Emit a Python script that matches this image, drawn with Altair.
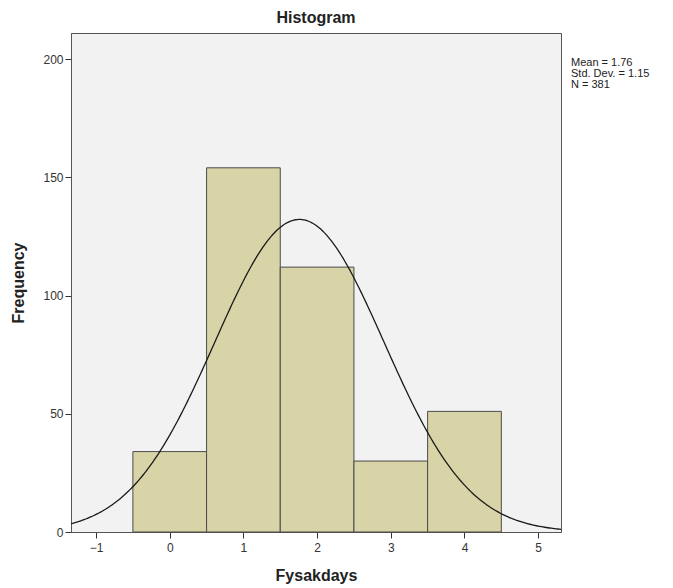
import altair as alt
import pandas as pd
import numpy as np

# Histogram data
bin_starts = [-0.5, 0.5, 1.5, 2.5, 3.5]
bin_ends = [0.5, 1.5, 2.5, 3.5, 4.5]
counts = [34, 154, 112, 30, 51]

# Summary statistics shown in the chart
mean_val = 1.76
sd_val = 1.15
n_val = 381
bin_width = 1.0

x_ticks = [-1, 0, 1, 2, 3, 4, 5]
y_ticks = [0, 50, 100, 150, 200]
x_domain = [-1.34, 5.31]
y_domain = [0, 211]

bars_df = pd.DataFrame({"start": bin_starts, "end": bin_ends, "count": counts})

# Fitted normal curve defined by the stated mean / SD / N
xs = np.linspace(x_domain[0], x_domain[1], 300)
ys = n_val * bin_width / (sd_val * np.sqrt(2 * np.pi)) * np.exp(-0.5 * ((xs - mean_val) / sd_val) ** 2)
curve_df = pd.DataFrame({"x": xs, "y": ys})

stats_text = f"Mean = {mean_val:.2f}\nStd. Dev. = {sd_val:.2f}\nN = {n_val}"

FONT = "Liberation Sans"

xscale = alt.Scale(domain=x_domain, nice=False, zero=False)
yscale = alt.Scale(domain=y_domain, nice=False)

xaxis = alt.Axis(values=x_ticks, format="d", title="Fysakdays", grid=False, tickSize=6,
                 labelFontSize=12, labelColor="#333333", labelFont=FONT,
                 titleFont=FONT, titleFontSize=16, titleFontWeight="bold",
                 titleColor="#222222", titlePadding=14, domainColor="#555555",
                 tickColor="#333333", labelPadding=4)
yaxis = alt.Axis(values=y_ticks, format="d", title="Frequency", grid=False, tickSize=6,
                 labelFontSize=12, labelColor="#333333", labelFont=FONT,
                 titleFont=FONT, titleFontSize=16, titleFontWeight="bold",
                 titleColor="#222222", titlePadding=16, domainColor="#555555",
                 tickColor="#333333", labelPadding=2)

bars = alt.Chart(bars_df).mark_rect(
    fill="#d9d4a7", stroke="#4a4a4a", strokeWidth=1
).encode(
    x=alt.X("start:Q", scale=xscale, axis=xaxis),
    x2="end:Q",
    y=alt.Y("count:Q", scale=yscale, axis=yaxis),
    y2=alt.datum(0),
)

curve = alt.Chart(curve_df).mark_line(
    color="#1a1a1a", strokeWidth=1.3, clip=True
).encode(
    x=alt.X("x:Q", scale=xscale),
    y=alt.Y("y:Q", scale=yscale),
)

stats = alt.Chart(pd.DataFrame({"label": [stats_text]})).mark_text(
    align="left", baseline="top", fontSize=11, font=FONT, color="#222222",
    lineBreak="\n", lineHeight=11
).encode(
    x=alt.value(500),
    y=alt.value(24),
    text="label:N",
)

chart = alt.layer(bars, curve, stats).properties(
    width=490,
    height=499,
    title=alt.TitleParams("Histogram", fontSize=16, fontWeight="bold", font=FONT,
                          color="#222222", anchor="middle", offset=7),
    autosize=alt.AutoSizeParams(type="none"),
    padding={"left": 63, "top": 25, "right": 104, "bottom": 58},
    background="white",
).configure_view(
    fill="#f2f2f2", stroke="#555555", strokeWidth=1
)

chart.save("out.html", embed_options={"renderer": "svg", "actions": False})
